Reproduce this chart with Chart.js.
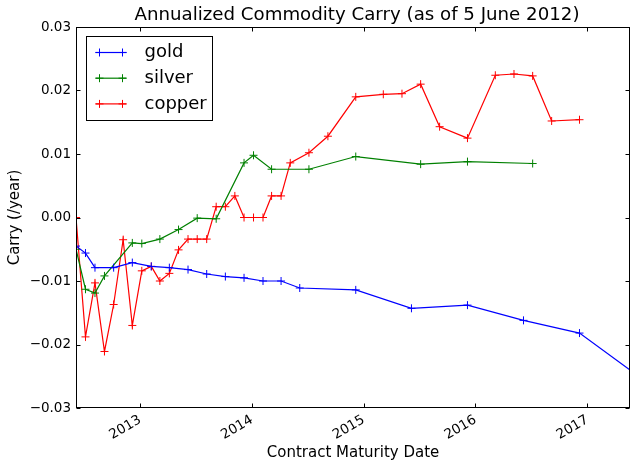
<!DOCTYPE html>
<html><head><meta charset="utf-8">
<script src="https://cdn.jsdelivr.net/npm/chart.js@4"></script>
<style>html,body{margin:0;padding:0;background:#fff}canvas{display:block}</style>
</head><body>
<canvas id="c" width="635" height="462"></canvas>
<script>
// ---- data ----
const chartTitle = 'Annualized Commodity Carry (as of 5 June 2012)';
const xAxisLabel = 'Contract Maturity Date';
const yAxisLabel = 'Carry (/year)';
const xStart = '2012-06-05';
const xEnd = '2017-05-20';
const xTickYears = [2013, 2014, 2015, 2016, 2017];
const yTickValues = [-0.03, -0.02, -0.01, 0.00, 0.01, 0.02, 0.03];

const goldDates = ['2012-06-05','2012-07-06','2012-08-06','2012-10-06','2012-12-06','2013-02-06','2013-04-06','2013-06-06','2013-08-06','2013-10-06','2013-12-06','2014-02-06','2014-04-06','2014-06-06','2014-12-06','2015-06-06','2015-12-06','2016-06-06','2016-12-06','2017-06-06'];
const goldCarry = [-0.0045,-0.0056,-0.0079,-0.0079,-0.0071,-0.0077,-0.0079,-0.0082,-0.0089,-0.0093,-0.0095,-0.0100,-0.0100,-0.0111,-0.0114,-0.0143,-0.0138,-0.0162,-0.0182,-0.0246];

const silverDates = ['2012-06-05','2012-07-06','2012-08-06','2012-09-06','2012-12-06','2013-01-06','2013-03-06','2013-05-06','2013-07-06','2013-09-06','2013-12-06','2014-01-06','2014-03-06','2014-07-06','2014-12-06','2015-07-06','2015-12-06','2016-07-06'];
const silverCarry = [-0.0050,-0.0113,-0.0119,-0.0092,-0.0040,-0.0041,-0.0034,-0.0019,-0.0001,-0.0002,0.0086,0.0098,0.0076,0.0076,0.0096,0.0084,0.0088,0.0085];

const copperDates = ['2012-06-05','2012-07-06','2012-08-06','2012-09-06','2012-10-06','2012-11-06','2012-12-06','2013-01-06','2013-02-06','2013-03-06','2013-04-06','2013-05-06','2013-06-06','2013-07-06','2013-08-06','2013-09-06','2013-10-06','2013-11-06','2013-12-06','2014-01-06','2014-02-06','2014-03-06','2014-04-06','2014-05-06','2014-07-06','2014-09-06','2014-12-06','2015-03-06','2015-05-06','2015-07-06','2015-09-06','2015-12-06','2016-03-06','2016-05-06','2016-07-06','2016-09-06','2016-12-06'];
const copperCarry = [0.0000,-0.0188,-0.0103,-0.0211,-0.0137,-0.0035,-0.0170,-0.0084,-0.0077,-0.0100,-0.0088,-0.0051,-0.0034,-0.0034,-0.0034,0.0017,0.0017,0.0034,0.0000,0.0000,0.0000,0.0034,0.0034,0.0086,0.0102,0.0128,0.0190,0.0194,0.0195,0.0210,0.0143,0.0125,0.0224,0.0226,0.0223,0.0152,0.0154];

// ---- helpers ----
const FONT = "'DejaVu Sans', sans-serif";
const toX = d => Date.parse(d);
const pts = (ds, vs) => ds.map((d, i) => ({x: toX(d), y: vs[i]}));
const fmtY = v => { const s = Math.abs(v) < 1e-9 ? '0.00' : v.toFixed(2); return s.replace('-', '\u2212'); };

function mkSet(label, color, ds, vs) {
  return {
    label, data: pts(ds, vs), borderColor: color, backgroundColor: color,
    borderWidth: 1.2, tension: 0, fill: false,
    pointStyle: 'cross', pointRadius: 4, pointHoverRadius: 4,
    pointBorderWidth: 1, pointBorderColor: color
  };
}

const frameAndLegend = {
  id: 'frameAndLegend',
  afterDatasetsDraw(chart) {
    const {ctx, chartArea: a, scales: {x, y}} = chart;
    ctx.save();
    ctx.strokeStyle = '#000'; ctx.lineWidth = 1;
    const L = Math.round(a.left) + 0.5, R = Math.round(a.right) - 0.5;
    const T = Math.round(a.top) + 0.5, B = Math.round(a.bottom) - 0.5;
    ctx.beginPath();
    x.ticks.forEach(t => {
      const px = Math.round(x.getPixelForValue(t.value)) + 0.5;
      ctx.moveTo(px, B); ctx.lineTo(px, B - 4);
      ctx.moveTo(px, T); ctx.lineTo(px, T + 4);
    });
    y.ticks.forEach(t => {
      const py = Math.round(y.getPixelForValue(t.value)) + 0.5;
      ctx.moveTo(L, py); ctx.lineTo(L + 4, py);
      ctx.moveTo(R, py); ctx.lineTo(R - 4, py);
    });
    ctx.stroke();
    ctx.strokeRect(L, T, R - L, B - T);

    // title, centred over the axes
    ctx.fillStyle = '#000';
    ctx.font = '18.2px ' + FONT;
    ctx.textAlign = 'center';
    ctx.textBaseline = 'middle';
    ctx.fillText(chartTitle, (a.left + a.right) / 2 + 4, 15);

    // legend box (upper left, inside the axes)
    const bx = Math.round(a.left) + 10.5, by = Math.round(a.top) + 9.5, bw = 126, bh = 84;
    ctx.fillStyle = '#fff';
    ctx.fillRect(bx, by, bw, bh);
    ctx.strokeStyle = '#000';
    ctx.strokeRect(bx, by, bw, bh);
    ctx.font = '18px ' + FONT;
    ctx.textBaseline = 'middle';
    ctx.textAlign = 'left';
    chart.data.datasets.forEach((ds, i) => {
      const cy = by + 16 + i * 25.7;
      const x0 = bx + 9, x1 = bx + 40;
      ctx.strokeStyle = ds.borderColor; ctx.lineWidth = 1.2;
      ctx.beginPath(); ctx.moveTo(x0, cy); ctx.lineTo(x1, cy); ctx.stroke();
      ctx.lineWidth = 1;
      [x0 + 4, x1 - 4].forEach(mx => {
        ctx.beginPath();
        ctx.moveTo(mx - 4, cy); ctx.lineTo(mx + 4, cy);
        ctx.moveTo(mx, cy - 4); ctx.lineTo(mx, cy + 4);
        ctx.stroke();
      });
      ctx.fillStyle = '#000';
      ctx.fillText(ds.label, bx + 58, cy);
    });
    ctx.restore();
  }
};

new Chart(document.getElementById('c'), {
  type: 'line',
  data: {
    datasets: [
      mkSet('gold', '#0000ff', goldDates, goldCarry),
      mkSet('silver', '#008000', silverDates, silverCarry),
      mkSet('copper', '#ff0000', copperDates, copperCarry)
    ]
  },
  options: {
    responsive: false, animation: false, devicePixelRatio: 1,
    layout: {padding: {top: 27, right: 1, left: 0, bottom: 0}},
    plugins: {
      legend: {display: false},
      tooltip: {enabled: false},
      title: {display: false}
    },
    scales: {
      x: {
        type: 'linear', min: toX(xStart), max: toX(xEnd),
        afterBuildTicks(s) { s.ticks = xTickYears.map(yr => ({value: Date.UTC(yr, 0, 1)})); },
        afterFit(s) { s.height = 54; },
        grid: {display: false, drawTicks: false},
        border: {display: false},
        ticks: {
          callback: v => String(new Date(v).getUTCFullYear()),
          minRotation: 30, maxRotation: 30, autoSkip: false,
          color: '#000', font: {family: FONT, size: 13.5}, padding: 4
        },
        title: {display: true, text: xAxisLabel, color: '#000',
          font: {family: FONT, size: 15}, padding: {top: 0, bottom: 0}}
      },
      y: {
        min: -0.03, max: 0.03,
        afterBuildTicks(s) { s.ticks = yTickValues.map(v => ({value: v})); },
        afterFit(s) { s.width = 76; },
        grid: {display: false, drawTicks: false},
        border: {display: false},
        ticks: {callback: v => fmtY(v), color: '#000', font: {family: FONT, size: 13.5}, padding: 5},
        title: {display: true, text: yAxisLabel, color: '#000',
          font: {family: FONT, size: 15}, padding: {top: 6, bottom: 0}}
      }
    }
  },
  plugins: [frameAndLegend]
});
</script>
</body></html>
